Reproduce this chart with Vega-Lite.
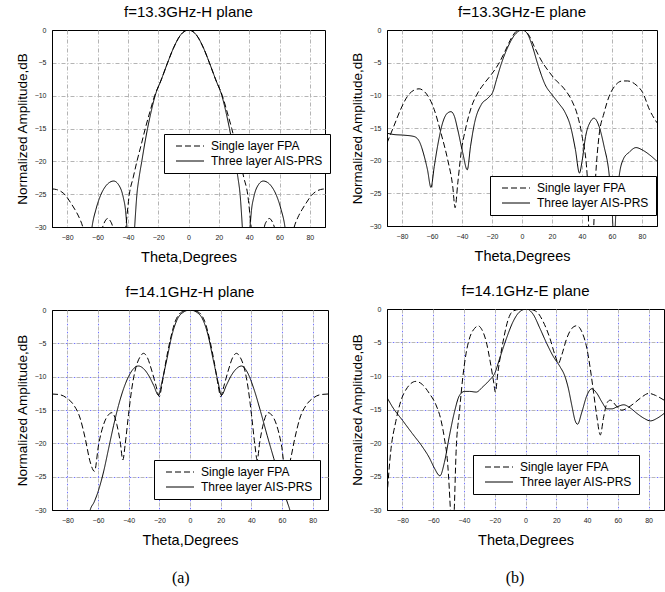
{
  "$schema": "https://vega.github.io/schema/vega-lite/v6.json",
  "padding": {"left": 14, "top": 4, "right": 4, "bottom": 2},
  "background": "white",
  "config": {
    "font": "Liberation Sans",
    "view": {"stroke": "black", "strokeWidth": 1},
    "axis": {"domainColor": "black", "ticks": false, "labelFontSize": 7, "labelColor": "#222", "labelPadding": 6, "titleFontWeight": "normal", "titleFontSize": 14.5, "titleColor": "black", "titlePadding": 10, "gridColor": "#b4b4b4", "gridDash": [4, 2, 1, 2], "gridOpacity": 1},
    "axisY": {"titleFontSize": 13.5, "titlePadding": 5},
    "title": {"fontSize": 15, "fontWeight": "normal", "color": "black", "offset": 6},
    "legend": {"strokeColor": "black", "fillColor": "white", "padding": 6, "symbolType": "M0,0H8", "symbolStrokeColor": "black", "symbolStrokeWidth": 1, "symbolSize": 49, "labelFontSize": 12, "labelColor": "black", "labelOffset": 29, "rowPadding": 3, "cornerRadius": 0}
  },
  "resolve": {"scale": {"strokeDash": "independent"}, "legend": {"strokeDash": "independent"}},
  "datasets": {
    "p1": [
      {"theta": -90, "dB": -24.2, "series": "Single layer FPA"},
      {"theta": -87, "dB": -24.3, "series": "Single layer FPA"},
      {"theta": -84, "dB": -24.6, "series": "Single layer FPA"},
      {"theta": -81, "dB": -25.2, "series": "Single layer FPA"},
      {"theta": -78, "dB": -26.2, "series": "Single layer FPA"},
      {"theta": -75, "dB": -27.3, "series": "Single layer FPA"},
      {"theta": -72, "dB": -28.6, "series": "Single layer FPA"},
      {"theta": -69.7, "dB": -30, "series": "Single layer FPA"},
      {"theta": -63, "dB": -40, "series": "Single layer FPA"},
      {"theta": -56.6, "dB": -30, "series": "Single layer FPA"},
      {"theta": -55, "dB": -29.1, "series": "Single layer FPA"},
      {"theta": -53.3, "dB": -28.7, "series": "Single layer FPA"},
      {"theta": -51.5, "dB": -29.1, "series": "Single layer FPA"},
      {"theta": -50, "dB": -30, "series": "Single layer FPA"},
      {"theta": -46, "dB": -40, "series": "Single layer FPA"},
      {"theta": -41.3, "dB": -30, "series": "Single layer FPA"},
      {"theta": -39, "dB": -25, "series": "Single layer FPA"},
      {"theta": -36.5, "dB": -22.5, "series": "Single layer FPA"},
      {"theta": -34, "dB": -20, "series": "Single layer FPA"},
      {"theta": -31.2, "dB": -17.5, "series": "Single layer FPA"},
      {"theta": -28.5, "dB": -15, "series": "Single layer FPA"},
      {"theta": -25.5, "dB": -12.5, "series": "Single layer FPA"},
      {"theta": -22.3, "dB": -10, "series": "Single layer FPA"},
      {"theta": -18, "dB": -7.6, "series": "Single layer FPA"},
      {"theta": -13.8, "dB": -5, "series": "Single layer FPA"},
      {"theta": -10, "dB": -2.8, "series": "Single layer FPA"},
      {"theta": -5, "dB": -0.7, "series": "Single layer FPA"},
      {"theta": 0, "dB": 0, "series": "Single layer FPA"},
      {"theta": 5, "dB": -0.7, "series": "Single layer FPA"},
      {"theta": 10, "dB": -2.8, "series": "Single layer FPA"},
      {"theta": 13.8, "dB": -5, "series": "Single layer FPA"},
      {"theta": 18, "dB": -7.6, "series": "Single layer FPA"},
      {"theta": 22.3, "dB": -10, "series": "Single layer FPA"},
      {"theta": 25.5, "dB": -12.5, "series": "Single layer FPA"},
      {"theta": 28.5, "dB": -15, "series": "Single layer FPA"},
      {"theta": 31.2, "dB": -17.5, "series": "Single layer FPA"},
      {"theta": 34, "dB": -20, "series": "Single layer FPA"},
      {"theta": 36.5, "dB": -22.5, "series": "Single layer FPA"},
      {"theta": 39, "dB": -25, "series": "Single layer FPA"},
      {"theta": 41.3, "dB": -30, "series": "Single layer FPA"},
      {"theta": 46, "dB": -40, "series": "Single layer FPA"},
      {"theta": 50, "dB": -30, "series": "Single layer FPA"},
      {"theta": 51.5, "dB": -29.1, "series": "Single layer FPA"},
      {"theta": 53.3, "dB": -28.7, "series": "Single layer FPA"},
      {"theta": 55, "dB": -29.1, "series": "Single layer FPA"},
      {"theta": 56.6, "dB": -30, "series": "Single layer FPA"},
      {"theta": 63, "dB": -40, "series": "Single layer FPA"},
      {"theta": 69.7, "dB": -30, "series": "Single layer FPA"},
      {"theta": 72, "dB": -28.6, "series": "Single layer FPA"},
      {"theta": 75, "dB": -27.3, "series": "Single layer FPA"},
      {"theta": 78, "dB": -26.2, "series": "Single layer FPA"},
      {"theta": 81, "dB": -25.2, "series": "Single layer FPA"},
      {"theta": 84, "dB": -24.6, "series": "Single layer FPA"},
      {"theta": 87, "dB": -24.3, "series": "Single layer FPA"},
      {"theta": 90, "dB": -24.2, "series": "Single layer FPA"},
      {"theta": -90, "dB": -45, "series": "Three layer AIS-PRS"},
      {"theta": -67, "dB": -38, "series": "Three layer AIS-PRS"},
      {"theta": -63.6, "dB": -30, "series": "Three layer AIS-PRS"},
      {"theta": -61, "dB": -27.3, "series": "Three layer AIS-PRS"},
      {"theta": -58, "dB": -25.2, "series": "Three layer AIS-PRS"},
      {"theta": -55, "dB": -23.9, "series": "Three layer AIS-PRS"},
      {"theta": -52, "dB": -23.2, "series": "Three layer AIS-PRS"},
      {"theta": -49.3, "dB": -23, "series": "Three layer AIS-PRS"},
      {"theta": -46, "dB": -23.6, "series": "Three layer AIS-PRS"},
      {"theta": -43, "dB": -25.5, "series": "Three layer AIS-PRS"},
      {"theta": -41.5, "dB": -27.5, "series": "Three layer AIS-PRS"},
      {"theta": -40.6, "dB": -30, "series": "Three layer AIS-PRS"},
      {"theta": -38, "dB": -40, "series": "Three layer AIS-PRS"},
      {"theta": -35.5, "dB": -30, "series": "Three layer AIS-PRS"},
      {"theta": -34, "dB": -25, "series": "Three layer AIS-PRS"},
      {"theta": -32.6, "dB": -22.5, "series": "Three layer AIS-PRS"},
      {"theta": -30.8, "dB": -20, "series": "Three layer AIS-PRS"},
      {"theta": -29, "dB": -17.5, "series": "Three layer AIS-PRS"},
      {"theta": -27, "dB": -15, "series": "Three layer AIS-PRS"},
      {"theta": -24.7, "dB": -12.5, "series": "Three layer AIS-PRS"},
      {"theta": -22, "dB": -10, "series": "Three layer AIS-PRS"},
      {"theta": -18, "dB": -7.6, "series": "Three layer AIS-PRS"},
      {"theta": -13.8, "dB": -5, "series": "Three layer AIS-PRS"},
      {"theta": -10, "dB": -2.8, "series": "Three layer AIS-PRS"},
      {"theta": -5, "dB": -0.7, "series": "Three layer AIS-PRS"},
      {"theta": 0, "dB": 0, "series": "Three layer AIS-PRS"},
      {"theta": 5, "dB": -0.7, "series": "Three layer AIS-PRS"},
      {"theta": 10, "dB": -2.8, "series": "Three layer AIS-PRS"},
      {"theta": 13.8, "dB": -5, "series": "Three layer AIS-PRS"},
      {"theta": 18, "dB": -7.6, "series": "Three layer AIS-PRS"},
      {"theta": 22, "dB": -10, "series": "Three layer AIS-PRS"},
      {"theta": 24.7, "dB": -12.5, "series": "Three layer AIS-PRS"},
      {"theta": 27, "dB": -15, "series": "Three layer AIS-PRS"},
      {"theta": 29, "dB": -17.5, "series": "Three layer AIS-PRS"},
      {"theta": 30.8, "dB": -20, "series": "Three layer AIS-PRS"},
      {"theta": 32.6, "dB": -22.5, "series": "Three layer AIS-PRS"},
      {"theta": 34, "dB": -25, "series": "Three layer AIS-PRS"},
      {"theta": 35.5, "dB": -30, "series": "Three layer AIS-PRS"},
      {"theta": 38, "dB": -40, "series": "Three layer AIS-PRS"},
      {"theta": 40.6, "dB": -30, "series": "Three layer AIS-PRS"},
      {"theta": 41.5, "dB": -27.5, "series": "Three layer AIS-PRS"},
      {"theta": 43, "dB": -25.5, "series": "Three layer AIS-PRS"},
      {"theta": 46, "dB": -23.6, "series": "Three layer AIS-PRS"},
      {"theta": 49.3, "dB": -23, "series": "Three layer AIS-PRS"},
      {"theta": 52, "dB": -23.2, "series": "Three layer AIS-PRS"},
      {"theta": 55, "dB": -23.9, "series": "Three layer AIS-PRS"},
      {"theta": 58, "dB": -25.2, "series": "Three layer AIS-PRS"},
      {"theta": 61, "dB": -27.3, "series": "Three layer AIS-PRS"},
      {"theta": 63.6, "dB": -30, "series": "Three layer AIS-PRS"},
      {"theta": 67, "dB": -38, "series": "Three layer AIS-PRS"},
      {"theta": 90, "dB": -45, "series": "Three layer AIS-PRS"}
    ],
    "p2": [
      {"theta": -90, "dB": -17.3, "series": "Single layer FPA"},
      {"theta": -85.4, "dB": -14.7, "series": "Single layer FPA"},
      {"theta": -81, "dB": -12.2, "series": "Single layer FPA"},
      {"theta": -76.5, "dB": -10.2, "series": "Single layer FPA"},
      {"theta": -72, "dB": -9.2, "series": "Single layer FPA"},
      {"theta": -68.6, "dB": -9.0, "series": "Single layer FPA"},
      {"theta": -65.2, "dB": -9.4, "series": "Single layer FPA"},
      {"theta": -61.9, "dB": -10.4, "series": "Single layer FPA"},
      {"theta": -58.5, "dB": -12.2, "series": "Single layer FPA"},
      {"theta": -54, "dB": -15.8, "series": "Single layer FPA"},
      {"theta": -49.6, "dB": -19.8, "series": "Single layer FPA"},
      {"theta": -46.2, "dB": -23.9, "series": "Single layer FPA"},
      {"theta": -44.6, "dB": -27.2, "series": "Single layer FPA"},
      {"theta": -42.8, "dB": -23.4, "series": "Single layer FPA"},
      {"theta": -40.6, "dB": -18.8, "series": "Single layer FPA"},
      {"theta": -37.2, "dB": -14.7, "series": "Single layer FPA"},
      {"theta": -33.9, "dB": -11.9, "series": "Single layer FPA"},
      {"theta": -29.4, "dB": -9.6, "series": "Single layer FPA"},
      {"theta": -24.9, "dB": -8.1, "series": "Single layer FPA"},
      {"theta": -20.4, "dB": -6.8, "series": "Single layer FPA"},
      {"theta": -15.9, "dB": -5.3, "series": "Single layer FPA"},
      {"theta": -11.4, "dB": -3.3, "series": "Single layer FPA"},
      {"theta": -7, "dB": -1.2, "series": "Single layer FPA"},
      {"theta": -3, "dB": -0.1, "series": "Single layer FPA"},
      {"theta": 1, "dB": 0, "series": "Single layer FPA"},
      {"theta": 4.3, "dB": -0.7, "series": "Single layer FPA"},
      {"theta": 8.7, "dB": -2.8, "series": "Single layer FPA"},
      {"theta": 13.2, "dB": -4.8, "series": "Single layer FPA"},
      {"theta": 17.7, "dB": -6.3, "series": "Single layer FPA"},
      {"theta": 22.2, "dB": -7.6, "series": "Single layer FPA"},
      {"theta": 27.8, "dB": -8.9, "series": "Single layer FPA"},
      {"theta": 33.4, "dB": -10.9, "series": "Single layer FPA"},
      {"theta": 36.8, "dB": -12.9, "series": "Single layer FPA"},
      {"theta": 40.1, "dB": -16.3, "series": "Single layer FPA"},
      {"theta": 43.5, "dB": -22.4, "series": "Single layer FPA"},
      {"theta": 45, "dB": -33, "series": "Single layer FPA"},
      {"theta": 47, "dB": -33, "series": "Single layer FPA"},
      {"theta": 49.1, "dB": -22.4, "series": "Single layer FPA"},
      {"theta": 51.3, "dB": -16.3, "series": "Single layer FPA"},
      {"theta": 54.7, "dB": -12.7, "series": "Single layer FPA"},
      {"theta": 58, "dB": -10.2, "series": "Single layer FPA"},
      {"theta": 62.5, "dB": -8.4, "series": "Single layer FPA"},
      {"theta": 67, "dB": -7.8, "series": "Single layer FPA"},
      {"theta": 70.4, "dB": -7.8, "series": "Single layer FPA"},
      {"theta": 76, "dB": -8.4, "series": "Single layer FPA"},
      {"theta": 80.5, "dB": -9.6, "series": "Single layer FPA"},
      {"theta": 85, "dB": -12.2, "series": "Single layer FPA"},
      {"theta": 90, "dB": -14.2, "series": "Single layer FPA"},
      {"theta": -90, "dB": -15.8, "series": "Three layer AIS-PRS"},
      {"theta": -85.4, "dB": -16.0, "series": "Three layer AIS-PRS"},
      {"theta": -78.7, "dB": -16.1, "series": "Three layer AIS-PRS"},
      {"theta": -72, "dB": -16.3, "series": "Three layer AIS-PRS"},
      {"theta": -68.6, "dB": -17.0, "series": "Three layer AIS-PRS"},
      {"theta": -65.2, "dB": -19.3, "series": "Three layer AIS-PRS"},
      {"theta": -63, "dB": -21.4, "series": "Three layer AIS-PRS"},
      {"theta": -60.7, "dB": -24.1, "series": "Three layer AIS-PRS"},
      {"theta": -58.5, "dB": -20.9, "series": "Three layer AIS-PRS"},
      {"theta": -56.3, "dB": -17.8, "series": "Three layer AIS-PRS"},
      {"theta": -52.9, "dB": -14.2, "series": "Three layer AIS-PRS"},
      {"theta": -49.6, "dB": -12.7, "series": "Three layer AIS-PRS"},
      {"theta": -47.3, "dB": -12.5, "series": "Three layer AIS-PRS"},
      {"theta": -45.1, "dB": -13.2, "series": "Three layer AIS-PRS"},
      {"theta": -42.8, "dB": -15.3, "series": "Three layer AIS-PRS"},
      {"theta": -39.5, "dB": -18.8, "series": "Three layer AIS-PRS"},
      {"theta": -36.5, "dB": -21.4, "series": "Three layer AIS-PRS"},
      {"theta": -34.3, "dB": -17.8, "series": "Three layer AIS-PRS"},
      {"theta": -31.6, "dB": -14.2, "series": "Three layer AIS-PRS"},
      {"theta": -27.1, "dB": -11.4, "series": "Three layer AIS-PRS"},
      {"theta": -22.6, "dB": -10.4, "series": "Three layer AIS-PRS"},
      {"theta": -19.3, "dB": -9.4, "series": "Three layer AIS-PRS"},
      {"theta": -17, "dB": -7.6, "series": "Three layer AIS-PRS"},
      {"theta": -13.7, "dB": -5.1, "series": "Three layer AIS-PRS"},
      {"theta": -9.2, "dB": -2.5, "series": "Three layer AIS-PRS"},
      {"theta": -4.7, "dB": -0.7, "series": "Three layer AIS-PRS"},
      {"theta": 0, "dB": 0, "series": "Three layer AIS-PRS"},
      {"theta": 3.4, "dB": -0.5, "series": "Three layer AIS-PRS"},
      {"theta": 6.5, "dB": -2.2, "series": "Three layer AIS-PRS"},
      {"theta": 11, "dB": -5.6, "series": "Three layer AIS-PRS"},
      {"theta": 15.5, "dB": -8.4, "series": "Three layer AIS-PRS"},
      {"theta": 20, "dB": -9.9, "series": "Three layer AIS-PRS"},
      {"theta": 24.4, "dB": -11.2, "series": "Three layer AIS-PRS"},
      {"theta": 28.9, "dB": -12.7, "series": "Three layer AIS-PRS"},
      {"theta": 32.3, "dB": -14.7, "series": "Three layer AIS-PRS"},
      {"theta": 35.6, "dB": -18.3, "series": "Three layer AIS-PRS"},
      {"theta": 38.3, "dB": -21.9, "series": "Three layer AIS-PRS"},
      {"theta": 40.1, "dB": -20.0, "series": "Three layer AIS-PRS"},
      {"theta": 42.4, "dB": -16.3, "series": "Three layer AIS-PRS"},
      {"theta": 45.7, "dB": -14.0, "series": "Three layer AIS-PRS"},
      {"theta": 48, "dB": -13.5, "series": "Three layer AIS-PRS"},
      {"theta": 51.3, "dB": -14.7, "series": "Three layer AIS-PRS"},
      {"theta": 54.7, "dB": -17.8, "series": "Three layer AIS-PRS"},
      {"theta": 58, "dB": -21.9, "series": "Three layer AIS-PRS"},
      {"theta": 60, "dB": -27, "series": "Three layer AIS-PRS"},
      {"theta": 61.3, "dB": -33, "series": "Three layer AIS-PRS"},
      {"theta": 62.8, "dB": -27, "series": "Three layer AIS-PRS"},
      {"theta": 65, "dB": -22, "series": "Three layer AIS-PRS"},
      {"theta": 67.5, "dB": -19.8, "series": "Three layer AIS-PRS"},
      {"theta": 71.5, "dB": -18.7, "series": "Three layer AIS-PRS"},
      {"theta": 76, "dB": -18.0, "series": "Three layer AIS-PRS"},
      {"theta": 80.5, "dB": -18.4, "series": "Three layer AIS-PRS"},
      {"theta": 85, "dB": -19.1, "series": "Three layer AIS-PRS"},
      {"theta": 90, "dB": -20.1, "series": "Three layer AIS-PRS"}
    ],
    "p3": [
      {"theta": -90, "dB": -12.6, "series": "Single layer FPA"},
      {"theta": -85, "dB": -12.7, "series": "Single layer FPA"},
      {"theta": -80.4, "dB": -13.2, "series": "Single layer FPA"},
      {"theta": -76, "dB": -14.2, "series": "Single layer FPA"},
      {"theta": -71.7, "dB": -16.2, "series": "Single layer FPA"},
      {"theta": -68.4, "dB": -19.2, "series": "Single layer FPA"},
      {"theta": -65.1, "dB": -22.8, "series": "Single layer FPA"},
      {"theta": -62.3, "dB": -24.2, "series": "Single layer FPA"},
      {"theta": -59.6, "dB": -20.2, "series": "Single layer FPA"},
      {"theta": -56.4, "dB": -17.2, "series": "Single layer FPA"},
      {"theta": -53.1, "dB": -15.7, "series": "Single layer FPA"},
      {"theta": -50.9, "dB": -15.4, "series": "Single layer FPA"},
      {"theta": -47.7, "dB": -17.2, "series": "Single layer FPA"},
      {"theta": -45.5, "dB": -19.8, "series": "Single layer FPA"},
      {"theta": -43.8, "dB": -22.5, "series": "Single layer FPA"},
      {"theta": -42.3, "dB": -20.2, "series": "Single layer FPA"},
      {"theta": -40.1, "dB": -15.7, "series": "Single layer FPA"},
      {"theta": -37.9, "dB": -11.7, "series": "Single layer FPA"},
      {"theta": -35.7, "dB": -9.0, "series": "Single layer FPA"},
      {"theta": -32.5, "dB": -7.0, "series": "Single layer FPA"},
      {"theta": -30.3, "dB": -6.5, "series": "Single layer FPA"},
      {"theta": -28.1, "dB": -7.0, "series": "Single layer FPA"},
      {"theta": -24.8, "dB": -9.2, "series": "Single layer FPA"},
      {"theta": -22, "dB": -11.5, "series": "Single layer FPA"},
      {"theta": -20, "dB": -13.0, "series": "Single layer FPA"},
      {"theta": -18.3, "dB": -11.2, "series": "Single layer FPA"},
      {"theta": -16.1, "dB": -8.2, "series": "Single layer FPA"},
      {"theta": -12.9, "dB": -4.5, "series": "Single layer FPA"},
      {"theta": -9.6, "dB": -1.7, "series": "Single layer FPA"},
      {"theta": -6.3, "dB": -0.45, "series": "Single layer FPA"},
      {"theta": -3, "dB": -0.1, "series": "Single layer FPA"},
      {"theta": 0, "dB": 0, "series": "Single layer FPA"},
      {"theta": 3, "dB": -0.1, "series": "Single layer FPA"},
      {"theta": 6.3, "dB": -0.45, "series": "Single layer FPA"},
      {"theta": 9.6, "dB": -1.7, "series": "Single layer FPA"},
      {"theta": 12.9, "dB": -4.5, "series": "Single layer FPA"},
      {"theta": 16.1, "dB": -8.2, "series": "Single layer FPA"},
      {"theta": 18.3, "dB": -11.2, "series": "Single layer FPA"},
      {"theta": 20, "dB": -13.0, "series": "Single layer FPA"},
      {"theta": 22, "dB": -11.5, "series": "Single layer FPA"},
      {"theta": 24.8, "dB": -9.2, "series": "Single layer FPA"},
      {"theta": 28.1, "dB": -7.0, "series": "Single layer FPA"},
      {"theta": 30.3, "dB": -6.5, "series": "Single layer FPA"},
      {"theta": 32.5, "dB": -7.0, "series": "Single layer FPA"},
      {"theta": 35.7, "dB": -9.0, "series": "Single layer FPA"},
      {"theta": 37.9, "dB": -11.7, "series": "Single layer FPA"},
      {"theta": 40.1, "dB": -15.7, "series": "Single layer FPA"},
      {"theta": 42.3, "dB": -20.2, "series": "Single layer FPA"},
      {"theta": 43.8, "dB": -22.5, "series": "Single layer FPA"},
      {"theta": 45.5, "dB": -19.8, "series": "Single layer FPA"},
      {"theta": 47.7, "dB": -17.2, "series": "Single layer FPA"},
      {"theta": 50.9, "dB": -15.4, "series": "Single layer FPA"},
      {"theta": 53.1, "dB": -15.7, "series": "Single layer FPA"},
      {"theta": 56.4, "dB": -17.2, "series": "Single layer FPA"},
      {"theta": 59.6, "dB": -20.2, "series": "Single layer FPA"},
      {"theta": 62.3, "dB": -24.2, "series": "Single layer FPA"},
      {"theta": 65.1, "dB": -22.8, "series": "Single layer FPA"},
      {"theta": 68.4, "dB": -19.2, "series": "Single layer FPA"},
      {"theta": 71.7, "dB": -16.2, "series": "Single layer FPA"},
      {"theta": 76, "dB": -14.2, "series": "Single layer FPA"},
      {"theta": 80.4, "dB": -13.2, "series": "Single layer FPA"},
      {"theta": 85, "dB": -12.7, "series": "Single layer FPA"},
      {"theta": 90, "dB": -12.6, "series": "Single layer FPA"},
      {"theta": -90, "dB": -45, "series": "Three layer AIS-PRS"},
      {"theta": -68, "dB": -33.5, "series": "Three layer AIS-PRS"},
      {"theta": -65.1, "dB": -30, "series": "Three layer AIS-PRS"},
      {"theta": -62.5, "dB": -28.8, "series": "Three layer AIS-PRS"},
      {"theta": -59.6, "dB": -27.0, "series": "Three layer AIS-PRS"},
      {"theta": -56.4, "dB": -24.3, "series": "Three layer AIS-PRS"},
      {"theta": -53.1, "dB": -20.8, "series": "Three layer AIS-PRS"},
      {"theta": -49.8, "dB": -17.3, "series": "Three layer AIS-PRS"},
      {"theta": -46.6, "dB": -14.3, "series": "Three layer AIS-PRS"},
      {"theta": -43.3, "dB": -11.8, "series": "Three layer AIS-PRS"},
      {"theta": -40.1, "dB": -10.0, "series": "Three layer AIS-PRS"},
      {"theta": -36.8, "dB": -8.8, "series": "Three layer AIS-PRS"},
      {"theta": -33.6, "dB": -8.4, "series": "Three layer AIS-PRS"},
      {"theta": -30.3, "dB": -8.8, "series": "Three layer AIS-PRS"},
      {"theta": -27, "dB": -9.8, "series": "Three layer AIS-PRS"},
      {"theta": -23.7, "dB": -11.3, "series": "Three layer AIS-PRS"},
      {"theta": -20.5, "dB": -12.8, "series": "Three layer AIS-PRS"},
      {"theta": -18.3, "dB": -10.8, "series": "Three layer AIS-PRS"},
      {"theta": -15, "dB": -7.3, "series": "Three layer AIS-PRS"},
      {"theta": -11.8, "dB": -3.8, "series": "Three layer AIS-PRS"},
      {"theta": -8.5, "dB": -1.5, "series": "Three layer AIS-PRS"},
      {"theta": -4.1, "dB": -0.3, "series": "Three layer AIS-PRS"},
      {"theta": 0, "dB": 0, "series": "Three layer AIS-PRS"},
      {"theta": 4.1, "dB": -0.3, "series": "Three layer AIS-PRS"},
      {"theta": 8.5, "dB": -1.5, "series": "Three layer AIS-PRS"},
      {"theta": 11.8, "dB": -3.8, "series": "Three layer AIS-PRS"},
      {"theta": 15, "dB": -7.3, "series": "Three layer AIS-PRS"},
      {"theta": 18.3, "dB": -10.8, "series": "Three layer AIS-PRS"},
      {"theta": 20.5, "dB": -12.8, "series": "Three layer AIS-PRS"},
      {"theta": 23.7, "dB": -11.3, "series": "Three layer AIS-PRS"},
      {"theta": 27, "dB": -9.8, "series": "Three layer AIS-PRS"},
      {"theta": 30.3, "dB": -8.8, "series": "Three layer AIS-PRS"},
      {"theta": 33.6, "dB": -8.4, "series": "Three layer AIS-PRS"},
      {"theta": 37.3, "dB": -9.3, "series": "Three layer AIS-PRS"},
      {"theta": 41.6, "dB": -11.8, "series": "Three layer AIS-PRS"},
      {"theta": 46, "dB": -15.2, "series": "Three layer AIS-PRS"},
      {"theta": 50.3, "dB": -18.8, "series": "Three layer AIS-PRS"},
      {"theta": 54.7, "dB": -22.3, "series": "Three layer AIS-PRS"},
      {"theta": 59.1, "dB": -25.8, "series": "Three layer AIS-PRS"},
      {"theta": 63.4, "dB": -28.8, "series": "Three layer AIS-PRS"},
      {"theta": 65.1, "dB": -30, "series": "Three layer AIS-PRS"},
      {"theta": 68, "dB": -33.5, "series": "Three layer AIS-PRS"},
      {"theta": 90, "dB": -45, "series": "Three layer AIS-PRS"}
    ],
    "p4": [
      {"theta": -90, "dB": -28, "series": "Single layer FPA"},
      {"theta": -87.6, "dB": -21.3, "series": "Single layer FPA"},
      {"theta": -84.3, "dB": -16.8, "series": "Single layer FPA"},
      {"theta": -81.1, "dB": -13.8, "series": "Single layer FPA"},
      {"theta": -76.7, "dB": -11.7, "series": "Single layer FPA"},
      {"theta": -71.2, "dB": -10.8, "series": "Single layer FPA"},
      {"theta": -66.9, "dB": -11.3, "series": "Single layer FPA"},
      {"theta": -62.5, "dB": -12.6, "series": "Single layer FPA"},
      {"theta": -58.2, "dB": -14.3, "series": "Single layer FPA"},
      {"theta": -54.9, "dB": -16.6, "series": "Single layer FPA"},
      {"theta": -52.7, "dB": -19.3, "series": "Single layer FPA"},
      {"theta": -50.5, "dB": -23.3, "series": "Single layer FPA"},
      {"theta": -48.8, "dB": -30, "series": "Single layer FPA"},
      {"theta": -47.6, "dB": -36, "series": "Single layer FPA"},
      {"theta": -46.3, "dB": -30, "series": "Single layer FPA"},
      {"theta": -45.1, "dB": -21.3, "series": "Single layer FPA"},
      {"theta": -42.9, "dB": -15.3, "series": "Single layer FPA"},
      {"theta": -40.7, "dB": -10.1, "series": "Single layer FPA"},
      {"theta": -38.6, "dB": -6.6, "series": "Single layer FPA"},
      {"theta": -36, "dB": -4.1, "series": "Single layer FPA"},
      {"theta": -33.1, "dB": -2.9, "series": "Single layer FPA"},
      {"theta": -30.9, "dB": -2.5, "series": "Single layer FPA"},
      {"theta": -28.3, "dB": -3.1, "series": "Single layer FPA"},
      {"theta": -25.5, "dB": -4.9, "series": "Single layer FPA"},
      {"theta": -22.9, "dB": -7.9, "series": "Single layer FPA"},
      {"theta": -20.7, "dB": -10.9, "series": "Single layer FPA"},
      {"theta": -19.6, "dB": -12.4, "series": "Single layer FPA"},
      {"theta": -17.9, "dB": -9.4, "series": "Single layer FPA"},
      {"theta": -14.6, "dB": -4.9, "series": "Single layer FPA"},
      {"theta": -11.3, "dB": -1.6, "series": "Single layer FPA"},
      {"theta": -8.1, "dB": -0.3, "series": "Single layer FPA"},
      {"theta": -3.7, "dB": -0.05, "series": "Single layer FPA"},
      {"theta": 0, "dB": 0, "series": "Single layer FPA"},
      {"theta": 2.8, "dB": -0.05, "series": "Single layer FPA"},
      {"theta": 7.2, "dB": -0.4, "series": "Single layer FPA"},
      {"theta": 11.5, "dB": -1.9, "series": "Single layer FPA"},
      {"theta": 15.9, "dB": -4.4, "series": "Single layer FPA"},
      {"theta": 19.2, "dB": -6.9, "series": "Single layer FPA"},
      {"theta": 21.4, "dB": -8.1, "series": "Single layer FPA"},
      {"theta": 23.5, "dB": -6.9, "series": "Single layer FPA"},
      {"theta": 26.8, "dB": -4.4, "series": "Single layer FPA"},
      {"theta": 30.1, "dB": -2.9, "series": "Single layer FPA"},
      {"theta": 33.3, "dB": -2.5, "series": "Single layer FPA"},
      {"theta": 36.6, "dB": -3.4, "series": "Single layer FPA"},
      {"theta": 39.9, "dB": -5.9, "series": "Single layer FPA"},
      {"theta": 42.1, "dB": -8.9, "series": "Single layer FPA"},
      {"theta": 44.2, "dB": -12.4, "series": "Single layer FPA"},
      {"theta": 46.4, "dB": -16.1, "series": "Single layer FPA"},
      {"theta": 48.6, "dB": -18.8, "series": "Single layer FPA"},
      {"theta": 50.8, "dB": -16.1, "series": "Single layer FPA"},
      {"theta": 53, "dB": -14.0, "series": "Single layer FPA"},
      {"theta": 55.1, "dB": -13.6, "series": "Single layer FPA"},
      {"theta": 57.3, "dB": -14.0, "series": "Single layer FPA"},
      {"theta": 59.5, "dB": -14.6, "series": "Single layer FPA"},
      {"theta": 62.7, "dB": -15.1, "series": "Single layer FPA"},
      {"theta": 66, "dB": -14.8, "series": "Single layer FPA"},
      {"theta": 70.4, "dB": -14.1, "series": "Single layer FPA"},
      {"theta": 74.7, "dB": -13.3, "series": "Single layer FPA"},
      {"theta": 80.2, "dB": -12.6, "series": "Single layer FPA"},
      {"theta": 84.5, "dB": -12.9, "series": "Single layer FPA"},
      {"theta": 90, "dB": -13.6, "series": "Single layer FPA"},
      {"theta": -90, "dB": -13.2, "series": "Three layer AIS-PRS"},
      {"theta": -86.5, "dB": -14.6, "series": "Three layer AIS-PRS"},
      {"theta": -80, "dB": -16.6, "series": "Three layer AIS-PRS"},
      {"theta": -73.5, "dB": -18.6, "series": "Three layer AIS-PRS"},
      {"theta": -66.9, "dB": -20.6, "series": "Three layer AIS-PRS"},
      {"theta": -62.5, "dB": -22.2, "series": "Three layer AIS-PRS"},
      {"theta": -59.3, "dB": -23.7, "series": "Three layer AIS-PRS"},
      {"theta": -55.6, "dB": -24.9, "series": "Three layer AIS-PRS"},
      {"theta": -52.7, "dB": -22.9, "series": "Three layer AIS-PRS"},
      {"theta": -49.5, "dB": -19.0, "series": "Three layer AIS-PRS"},
      {"theta": -46.2, "dB": -15.4, "series": "Three layer AIS-PRS"},
      {"theta": -42.9, "dB": -12.9, "series": "Three layer AIS-PRS"},
      {"theta": -39.6, "dB": -12.3, "series": "Three layer AIS-PRS"},
      {"theta": -36.4, "dB": -12.3, "series": "Three layer AIS-PRS"},
      {"theta": -32, "dB": -12.4, "series": "Three layer AIS-PRS"},
      {"theta": -27.7, "dB": -11.6, "series": "Three layer AIS-PRS"},
      {"theta": -23.3, "dB": -10.6, "series": "Three layer AIS-PRS"},
      {"theta": -20, "dB": -9.6, "series": "Three layer AIS-PRS"},
      {"theta": -16.8, "dB": -7.4, "series": "Three layer AIS-PRS"},
      {"theta": -12.4, "dB": -4.4, "series": "Three layer AIS-PRS"},
      {"theta": -8.1, "dB": -1.9, "series": "Three layer AIS-PRS"},
      {"theta": -3.7, "dB": -0.4, "series": "Three layer AIS-PRS"},
      {"theta": 0.7, "dB": 0, "series": "Three layer AIS-PRS"},
      {"theta": 5, "dB": -0.8, "series": "Three layer AIS-PRS"},
      {"theta": 9.4, "dB": -2.9, "series": "Three layer AIS-PRS"},
      {"theta": 13.7, "dB": -5.1, "series": "Three layer AIS-PRS"},
      {"theta": 18.1, "dB": -7.1, "series": "Three layer AIS-PRS"},
      {"theta": 22.4, "dB": -8.6, "series": "Three layer AIS-PRS"},
      {"theta": 25.7, "dB": -10.1, "series": "Three layer AIS-PRS"},
      {"theta": 27.9, "dB": -11.9, "series": "Three layer AIS-PRS"},
      {"theta": 30.1, "dB": -14.4, "series": "Three layer AIS-PRS"},
      {"theta": 32.3, "dB": -16.7, "series": "Three layer AIS-PRS"},
      {"theta": 33.8, "dB": -17.2, "series": "Three layer AIS-PRS"},
      {"theta": 36.6, "dB": -15.4, "series": "Three layer AIS-PRS"},
      {"theta": 39.9, "dB": -12.9, "series": "Three layer AIS-PRS"},
      {"theta": 43.1, "dB": -11.9, "series": "Three layer AIS-PRS"},
      {"theta": 46.4, "dB": -12.6, "series": "Three layer AIS-PRS"},
      {"theta": 49.7, "dB": -13.9, "series": "Three layer AIS-PRS"},
      {"theta": 53, "dB": -14.9, "series": "Three layer AIS-PRS"},
      {"theta": 56.2, "dB": -14.9, "series": "Three layer AIS-PRS"},
      {"theta": 59.5, "dB": -14.6, "series": "Three layer AIS-PRS"},
      {"theta": 63.8, "dB": -14.3, "series": "Three layer AIS-PRS"},
      {"theta": 68.2, "dB": -14.8, "series": "Three layer AIS-PRS"},
      {"theta": 72.5, "dB": -15.6, "series": "Three layer AIS-PRS"},
      {"theta": 76.9, "dB": -16.3, "series": "Three layer AIS-PRS"},
      {"theta": 81.2, "dB": -16.7, "series": "Three layer AIS-PRS"},
      {"theta": 85.6, "dB": -16.3, "series": "Three layer AIS-PRS"},
      {"theta": 90, "dB": -15.6, "series": "Three layer AIS-PRS"}
    ]
  },
  "hconcat": [
    {
      "title": {"text": "(a)", "orient": "bottom", "anchor": "middle", "dx": 8, "font": "Liberation Serif", "fontSize": 16, "offset": 23},
      "spacing": 20,
      "resolve": {"scale": {"strokeDash": "independent"}, "legend": {"strokeDash": "independent"}},
      "vconcat": [
        {
          "title": "f=13.3GHz-H plane",
          "width": 273, "height": 197,
          "data": {"name": "p1"},
          "layer": [
            {
              "mark": {"type": "line", "clip": true, "color": "black", "strokeWidth": 1, "interpolate": "monotone"},
              "encoding": {
                "x": {"field": "theta", "type": "quantitative", "scale": {"domain": [-90, 90], "nice": false, "zero": false}, "axis": {"orient": "bottom", "grid": true, "values": [-80, -60, -40, -20, 0, 20, 40, 60, 80], "title": "Theta,Degrees"}},
                "y": {"field": "dB", "type": "quantitative", "scale": {"domain": [-30, 0], "nice": false}, "axis": {"orient": "left", "grid": true, "values": [-5, -10, -15, -20, -25], "labels": false, "domain": false, "title": null}},
                "strokeDash": {"field": "series", "type": "nominal", "scale": {"domain": ["Single layer FPA", "Three layer AIS-PRS"], "range": [[6, 3], [1, 0]]}, "legend": {"title": null, "orient": "none", "legendX": 112, "legendY": 104}}
              }
            },
            {
              "mark": {"type": "line", "opacity": 0, "clip": true},
              "encoding": {
                "x": {"field": "theta", "type": "quantitative", "scale": {"domain": [-90, 90], "nice": false, "zero": false}, "axis": null},
                "y": {"field": "dB", "type": "quantitative", "scale": {"domain": [-30, 0], "nice": false}, "axis": {"orient": "left", "grid": false, "values": [0, -5, -10, -15, -20, -25, -30], "title": "Normalized  Amplitude,dB"}}
              }
            }
          ],
          "resolve": {"axis": {"x": "independent", "y": "independent"}}
        },
        {
          "title": "f=14.1GHz-H plane",
          "width": 276, "height": 200,
          "data": {"name": "p3"},
          "layer": [
            {
              "mark": {"type": "line", "clip": true, "color": "black", "strokeWidth": 1, "interpolate": "monotone"},
              "encoding": {
                "x": {"field": "theta", "type": "quantitative", "scale": {"domain": [-90, 90], "nice": false, "zero": false}, "axis": {"orient": "bottom", "grid": true, "values": [-80, -60, -40, -20, 0, 20, 40, 60, 80], "title": "Theta,Degrees", "gridDash": [4, 4], "gridColor": "#b8b8b8"}},
                "y": {"field": "dB", "type": "quantitative", "scale": {"domain": [-30, 0], "nice": false}, "axis": {"orient": "left", "grid": true, "values": [-5, -10, -15, -20, -25], "labels": false, "domain": false, "title": null, "gridDash": [4, 4], "gridColor": "#b8b8b8"}},
                "strokeDash": {"field": "series", "type": "nominal", "scale": {"domain": ["Single layer FPA", "Three layer AIS-PRS"], "range": [[6, 3], [1, 0]]}, "legend": {"title": null, "orient": "none", "legendX": 102, "legendY": 150}}
              }
            },
            {
              "mark": {"type": "line", "opacity": 0, "clip": true},
              "encoding": {
                "x": {"field": "theta", "type": "quantitative", "scale": {"domain": [-90, 90], "nice": false, "zero": false}, "axis": {"orient": "bottom", "grid": true, "values": [-80, -60, -40, -20, 0, 20, 40, 60, 80], "title": null, "labels": false, "domain": false, "gridDash": [1.5, 6.5], "gridDashOffset": 2.7, "gridColor": "#7474ff"}},
                "y": {"field": "dB", "type": "quantitative", "scale": {"domain": [-30, 0], "nice": false}, "axis": {"orient": "left", "grid": true, "values": [-5, -10, -15, -20, -25], "title": null, "labels": false, "domain": false, "gridDash": [1.5, 6.5], "gridDashOffset": 2.7, "gridColor": "#7474ff"}}
              }
            },
            {
              "mark": {"type": "line", "opacity": 0, "clip": true},
              "encoding": {
                "x": {"field": "theta", "type": "quantitative", "scale": {"domain": [-90, 90], "nice": false, "zero": false}, "axis": null},
                "y": {"field": "dB", "type": "quantitative", "scale": {"domain": [-30, 0], "nice": false}, "axis": {"orient": "left", "grid": false, "values": [0, -5, -10, -15, -20, -25, -30], "title": "Normalized  Amplitude,dB"}}
              }
            }
          ],
          "resolve": {"axis": {"x": "independent", "y": "independent"}}
        }
      ]
    },
    {
      "title": {"text": "(b)", "orient": "bottom", "anchor": "middle", "dx": 8, "font": "Liberation Serif", "fontSize": 16, "offset": 23},
      "spacing": 20,
      "resolve": {"scale": {"strokeDash": "independent"}, "legend": {"strokeDash": "independent"}},
      "vconcat": [
        {
          "title": "f=13.3GHz-E plane",
          "width": 270, "height": 196,
          "data": {"name": "p2"},
          "layer": [
            {
              "mark": {"type": "line", "clip": true, "color": "black", "strokeWidth": 1, "interpolate": "monotone"},
              "encoding": {
                "x": {"field": "theta", "type": "quantitative", "scale": {"domain": [-90, 90], "nice": false, "zero": false}, "axis": {"orient": "bottom", "grid": true, "values": [-80, -60, -40, -20, 0, 20, 40, 60, 80], "title": "Theta,Degrees"}},
                "y": {"field": "dB", "type": "quantitative", "scale": {"domain": [-30, 0], "nice": false}, "axis": {"orient": "left", "grid": true, "values": [-5, -10, -15, -20, -25], "labels": false, "domain": false, "title": null}},
                "strokeDash": {"field": "series", "type": "nominal", "scale": {"domain": ["Single layer FPA", "Three layer AIS-PRS"], "range": [[6, 3], [1, 0]]}, "legend": {"title": null, "orient": "none", "legendX": 103, "legendY": 146}}
              }
            },
            {
              "mark": {"type": "line", "opacity": 0, "clip": true},
              "encoding": {
                "x": {"field": "theta", "type": "quantitative", "scale": {"domain": [-90, 90], "nice": false, "zero": false}, "axis": null},
                "y": {"field": "dB", "type": "quantitative", "scale": {"domain": [-30, 0], "nice": false}, "axis": {"orient": "left", "grid": false, "values": [0, -5, -10, -15, -20, -25, -30], "title": "Normalized  Amplitude,dB"}}
              }
            }
          ],
          "resolve": {"axis": {"x": "independent", "y": "independent"}}
        },
        {
          "title": "f=14.1GHz-E plane",
          "width": 277, "height": 201,
          "data": {"name": "p4"},
          "layer": [
            {
              "mark": {"type": "line", "clip": true, "color": "black", "strokeWidth": 1, "interpolate": "monotone"},
              "encoding": {
                "x": {"field": "theta", "type": "quantitative", "scale": {"domain": [-90, 90], "nice": false, "zero": false}, "axis": {"orient": "bottom", "grid": true, "values": [-80, -60, -40, -20, 0, 20, 40, 60, 80], "title": "Theta,Degrees", "gridDash": [4, 4], "gridColor": "#b8b8b8"}},
                "y": {"field": "dB", "type": "quantitative", "scale": {"domain": [-30, 0], "nice": false}, "axis": {"orient": "left", "grid": true, "values": [-5, -10, -15, -20, -25], "labels": false, "domain": false, "title": null, "gridDash": [4, 4], "gridColor": "#b8b8b8"}},
                "strokeDash": {"field": "series", "type": "nominal", "scale": {"domain": ["Single layer FPA", "Three layer AIS-PRS"], "range": [[6, 3], [1, 0]]}, "legend": {"title": null, "orient": "none", "legendX": 86, "legendY": 146}}
              }
            },
            {
              "mark": {"type": "line", "opacity": 0, "clip": true},
              "encoding": {
                "x": {"field": "theta", "type": "quantitative", "scale": {"domain": [-90, 90], "nice": false, "zero": false}, "axis": {"orient": "bottom", "grid": true, "values": [-80, -60, -40, -20, 0, 20, 40, 60, 80], "title": null, "labels": false, "domain": false, "gridDash": [1.5, 6.5], "gridDashOffset": 2.7, "gridColor": "#7474ff"}},
                "y": {"field": "dB", "type": "quantitative", "scale": {"domain": [-30, 0], "nice": false}, "axis": {"orient": "left", "grid": true, "values": [-5, -10, -15, -20, -25], "title": null, "labels": false, "domain": false, "gridDash": [1.5, 6.5], "gridDashOffset": 2.7, "gridColor": "#7474ff"}}
              }
            },
            {
              "mark": {"type": "line", "opacity": 0, "clip": true},
              "encoding": {
                "x": {"field": "theta", "type": "quantitative", "scale": {"domain": [-90, 90], "nice": false, "zero": false}, "axis": null},
                "y": {"field": "dB", "type": "quantitative", "scale": {"domain": [-30, 0], "nice": false}, "axis": {"orient": "left", "grid": false, "values": [0, -5, -10, -15, -20, -25, -30], "title": "Normalized Amplitude,dB"}}
              }
            }
          ],
          "resolve": {"axis": {"x": "independent", "y": "independent"}}
        }
      ]
    }
  ],
  "spacing": 18
}
